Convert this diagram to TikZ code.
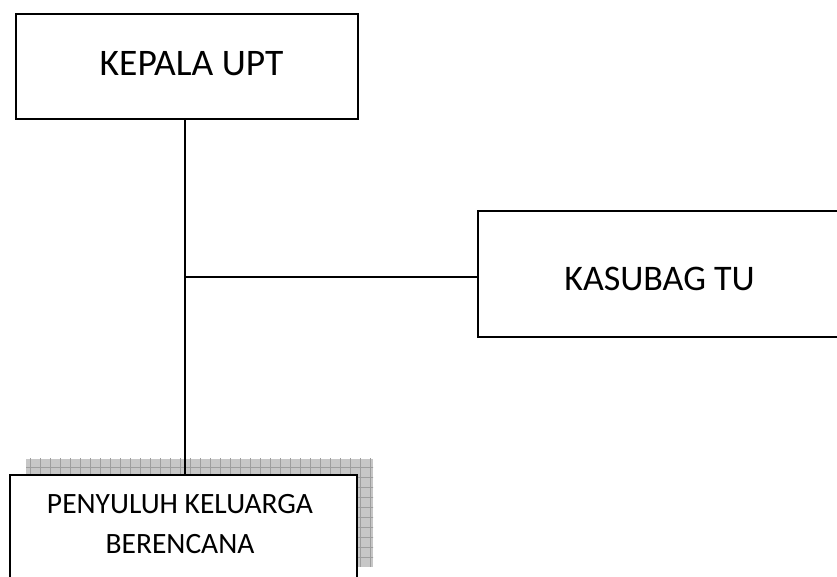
\documentclass[tikz,border=0pt]{standalone}
\usepackage{fontspec}
\setmainfont{Carlito}
\begin{document}
\begin{tikzpicture}[x=1pt,y=1pt,
  orgbox/.style={draw=black, line width=1.3pt, fill=white, rectangle, inner sep=0pt},
  lbl/.style={inner sep=0pt, anchor=base},
  conn/.style={draw=black, line width=1.4pt}]
\useasboundingbox (0,0) rectangle (837,577);
% shadow of bottom box
\begin{scope}
  \clip (26,10) rectangle (373,118);
  \fill[black!22] (26,10) rectangle (373,118);
  \draw[black!38, line width=0.6pt, step=10pt] (20,0) grid (380,130);
\end{scope}
\node[orgbox, minimum width=342pt, minimum height=105pt] (kepala) at (187,510.5) {};
\node[orgbox, minimum width=364pt, minimum height=126pt] (kasubag) at (660,303) {};
\node[orgbox, line width=2pt, minimum width=347pt, minimum height=108pt] (pkb) at (183.5,48) {};
\node[lbl, font=\fontsize{37.5}{44}\selectfont] (kepalatext) at (191.5,501) {KEPALA UPT};
\node[lbl, font=\fontsize{36}{43}\selectfont] (kasubagtext) at (659.5,286.3) {KASUBAG TU};
\node[lbl, font=\fontsize{29.5}{35}\selectfont] (pkbtexta) at (180,63) {PENYULUH KELUARGA};
\node[lbl, font=\fontsize{29.5}{35}\selectfont] (pkbtextb) at (180,23) {BERENCANA};
\coordinate (j) at (185,300);
\draw[conn] (kepala.south -| j) -- (pkb.north -| j);
\draw[conn] (j) -- (kasubag.west |- j);
\end{tikzpicture}
\end{document}
